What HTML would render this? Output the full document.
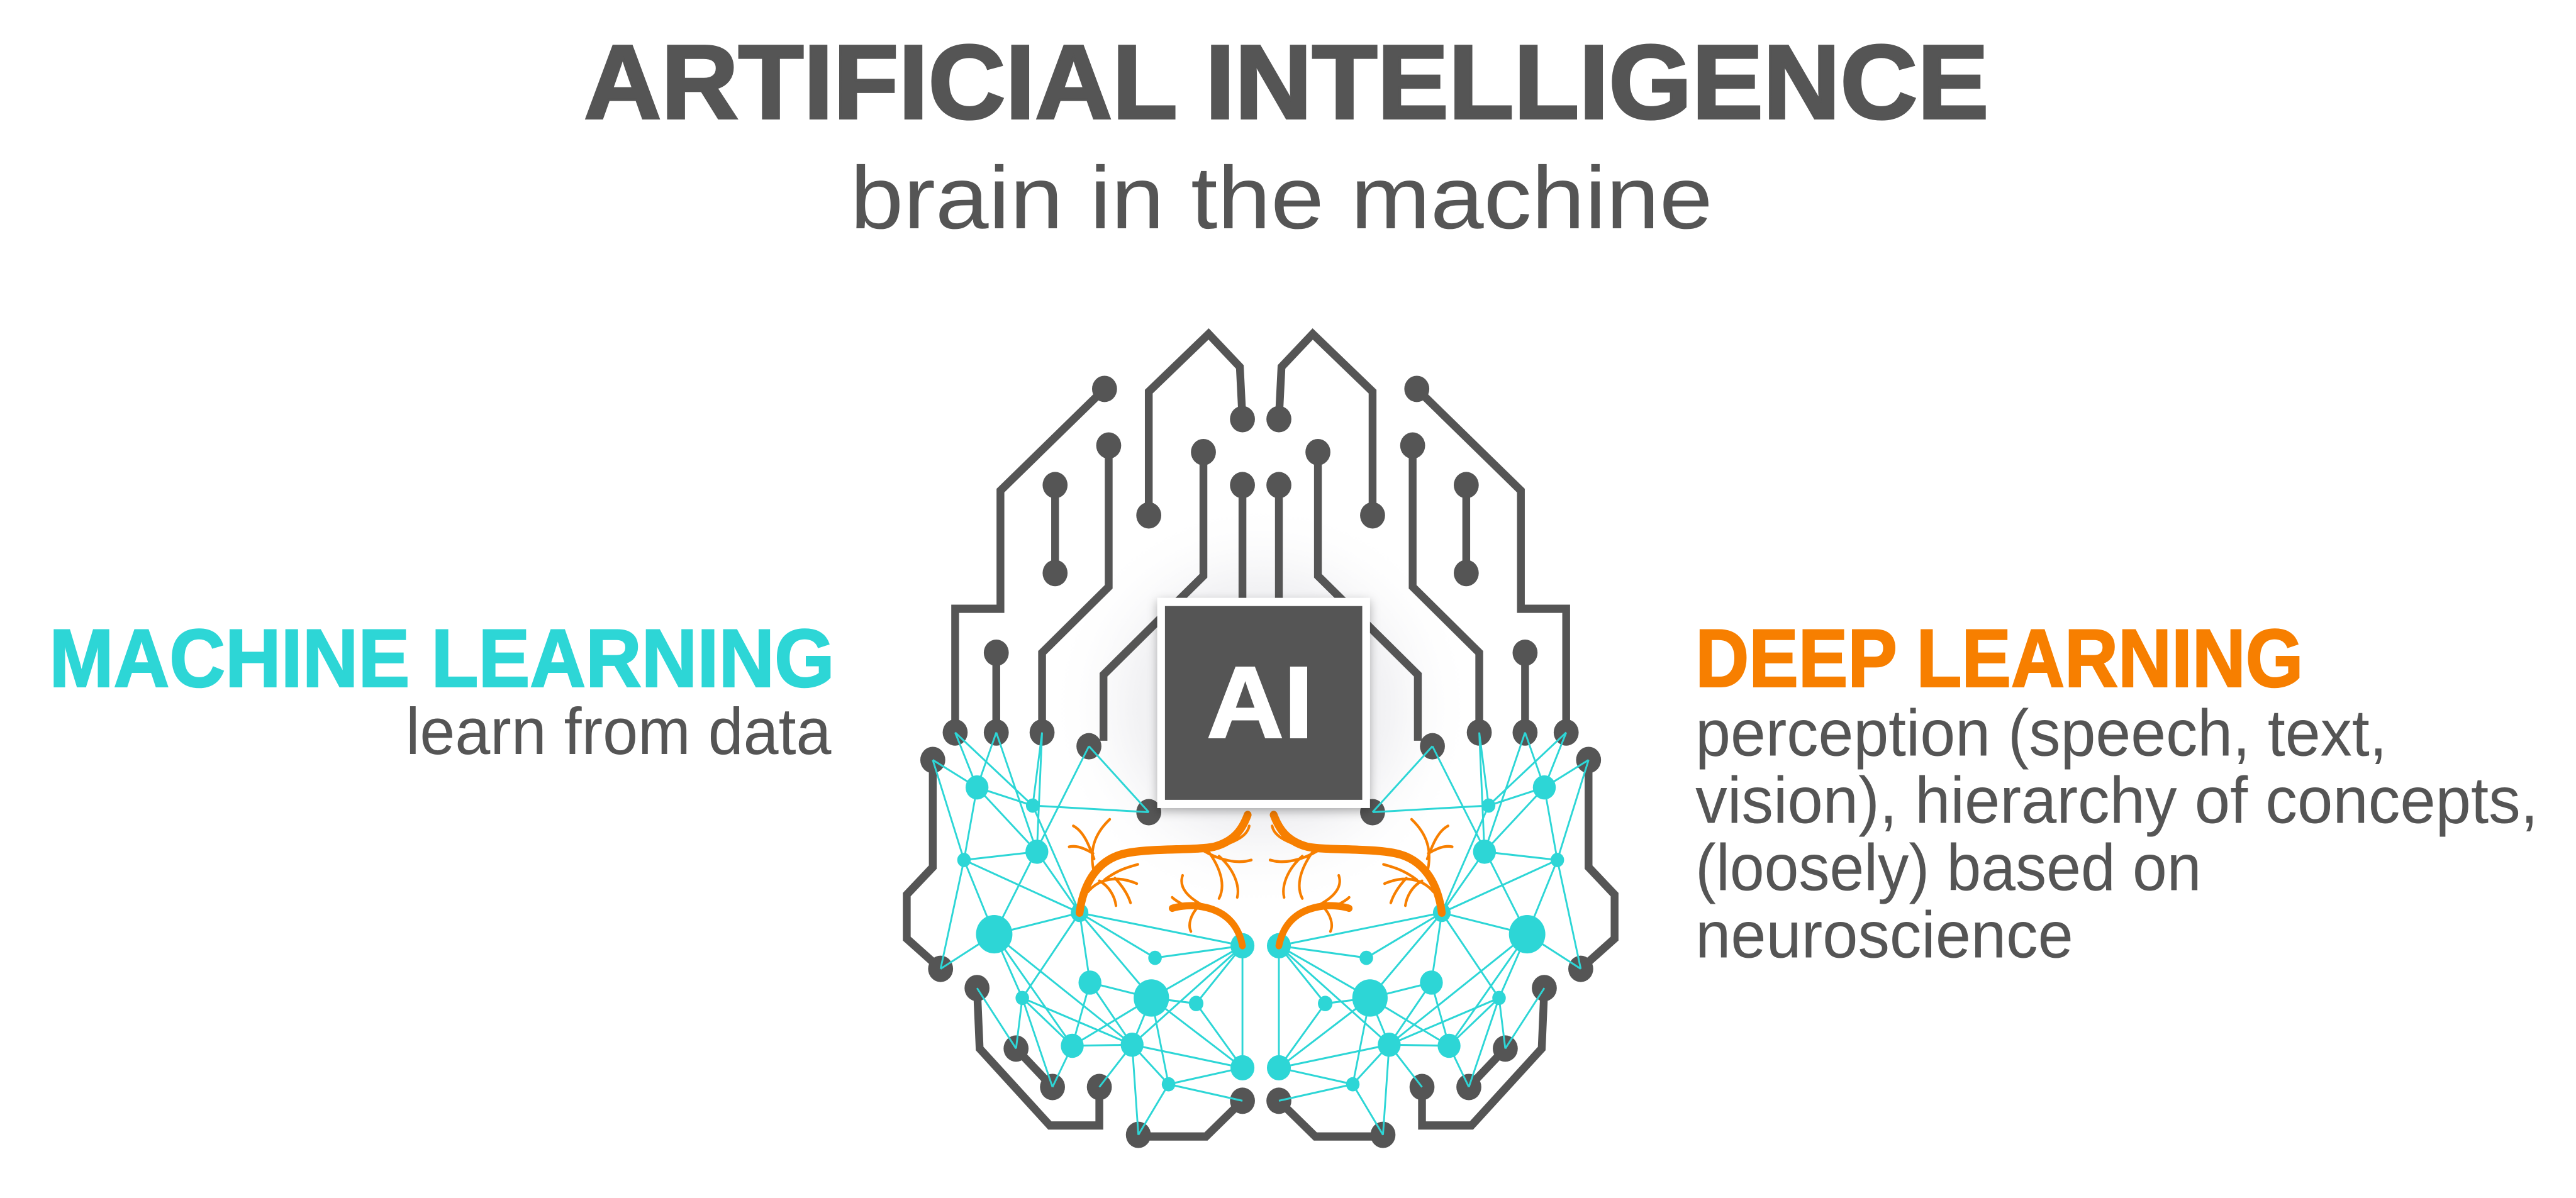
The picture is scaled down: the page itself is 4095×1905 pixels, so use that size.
<!DOCTYPE html>
<html><head><meta charset="utf-8"><style>html,body{margin:0;padding:0;background:#fff}svg{display:block}</style></head>
<body>
<svg width="4095" height="1905" viewBox="0 0 1568 729.4" xmlns="http://www.w3.org/2000/svg" font-family="Liberation Sans, sans-serif">
<defs>
<radialGradient id="glow" cx="50%" cy="50%" r="50%">
<stop offset="0" stop-color="#e4e5e8"/><stop offset="0.6" stop-color="#f3f3f5"/><stop offset="1" stop-color="#fff" stop-opacity="0"/>
</radialGradient>
<filter id="sh" x="-20%" y="-20%" width="140%" height="140%"><feDropShadow dx="0" dy="2" stdDeviation="3" flood-color="#000" flood-opacity="0.3"/></filter>
<g id="half">
 <g fill="none" stroke="#555" stroke-width="15" stroke-linejoin="miter">
  <path d="M695,210 L690,115 L630,55 L515,160 L515,385"/>
  <path d="M430,155 L230,340 L230,555 L143,555 L143,780"/>
  <path d="M335,330 L335,490"/>
  <path d="M438,258 L438,515 L310,635 L310,780"/>
  <path d="M620,270 L620,495 L428,675 L428,795"/>
  <path d="M695,330 L695,560"/>
  <path d="M222,635 L222,780"/>
  <path d="M100,830 L100,1025 L50,1075 L50,1155 L115,1210"/>
  <path d="M185,1245 L190,1355 L325,1495 L420,1495 L420,1425"/>
  <path d="M260,1355 L330,1425"/>
  <path d="M495,1515 L625,1515 L695,1450"/>
 </g>
 <g fill="#555">
  <circle cx="695" cy="210" r="24"/><circle cx="515" cy="385" r="24"/><circle cx="430" cy="155" r="24"/>
  <circle cx="143" cy="780" r="24"/><circle cx="335" cy="330" r="24"/><circle cx="335" cy="490" r="24"/>
  <circle cx="438" cy="258" r="24"/><circle cx="310" cy="780" r="24"/><circle cx="620" cy="270" r="24"/>
  <circle cx="400" cy="805" r="24"/><circle cx="695" cy="330" r="24"/><circle cx="222" cy="635" r="24"/>
  <circle cx="222" cy="780" r="24"/><circle cx="100" cy="830" r="24"/><circle cx="115" cy="1210" r="24"/>
  <circle cx="185" cy="1245" r="24"/><circle cx="420" cy="1425" r="24"/><circle cx="260" cy="1355" r="24"/>
  <circle cx="330" cy="1425" r="24"/><circle cx="495" cy="1512" r="24"/><circle cx="695" cy="1450" r="24"/>
  <circle cx="515" cy="925" r="24"/>
 </g>
 <g stroke="#2dd6d6" stroke-width="3.5" fill="none">
  <path d="M100,830L185,880 M100,830L160,1012 M143,780L185,880 M143,780L292,913 M222,780L185,880 M222,780L300,997 M310,780L292,913 M310,780L300,997 M400,805L218,1147 M400,805L515,925
  M185,880L292,913 M185,880L300,997 M185,880L160,1012 M292,913L515,925 M292,913L382,1108 M300,997L160,1012 M300,997L382,1108 M160,1012L218,1147 M160,1012L382,1108 M160,1012L115,1210
  M218,1147L115,1210 M218,1147L382,1108 M218,1147L272,1263 M218,1147L368,1350 M218,1147L483,1348 M382,1108L402,1235 M382,1108L695,1168 M382,1108L527,1190 M382,1108L272,1263 M382,1108L520,1263
  M402,1235L520,1263 M402,1235L368,1350 M402,1235L483,1348 M520,1263L695,1168 M520,1263L606,1273 M520,1263L553,1420 M520,1263L695,1390 M520,1263L368,1350 M520,1263L483,1348 M527,1190L695,1168
  M606,1273L695,1168 M606,1273L695,1390 M695,1168L695,1390 M272,1263L368,1350 M272,1263L483,1348 M272,1263L330,1425 M185,1245L260,1355 M272,1263L260,1355 M368,1350L483,1348 M368,1350L330,1425
  M483,1348L553,1420 M483,1348L420,1425 M483,1348L495,1512 M483,1348L695,1390 M553,1420L695,1390 M553,1420L695,1450 M553,1420L495,1512 M695,1168L483,1348"/>
 </g>
 <g fill="#2dd6d6">
  <circle cx="185" cy="880" r="22"/><circle cx="292" cy="913" r="13"/><circle cx="300" cy="997" r="22"/>
  <circle cx="160" cy="1012" r="13"/><circle cx="218" cy="1147" r="35"/><circle cx="382" cy="1108" r="17"/>
  <circle cx="402" cy="1235" r="22"/><circle cx="520" cy="1263" r="34"/><circle cx="527" cy="1190" r="13"/>
  <circle cx="606" cy="1273" r="14"/><circle cx="695" cy="1168" r="23"/><circle cx="272" cy="1263" r="13"/>
  <circle cx="368" cy="1350" r="22"/><circle cx="483" cy="1348" r="22"/><circle cx="553" cy="1420" r="13"/>
  <circle cx="695" cy="1390" r="23"/>
 </g>
 <g fill="none" stroke="#f77f00" stroke-linecap="round">
  <path stroke-width="15" d="M382,1108 C390,1050 420,1010 470,1000 C520,990 600,995 640,988 C680,978 695,955 705,930"/>
  <path stroke-width="13" d="M695,1168 C685,1120 650,1098 600,1095 C580,1095 565,1098 560,1100"/>
  <path stroke-width="5" d="M410,1035 C400,995 410,965 440,938 M410,1010 C400,985 390,960 370,950 M408,1000 C390,990 375,985 362,988 M398,1070 C420,1045 455,1040 492,1055 M430,1048 C455,1030 475,1025 494,1020 M450,1045 C465,1060 475,1075 480,1090 M420,1050 C440,1060 450,1080 452,1095
  M620,995 C650,1012 685,1020 712,1012 M630,997 C655,1030 662,1060 650,1082 M650,1005 C680,1030 690,1060 685,1080 M660,985 C690,975 705,965 708,950
  M620,1095 C590,1080 572,1062 580,1040 M610,1097 C595,1112 590,1130 596,1142 M590,1098 C575,1090 565,1085 560,1080"/>
 </g>
</g>
</defs>

<text x="783" y="72" text-anchor="middle" font-size="64" font-weight="bold" fill="#555" stroke="#555" stroke-width="1.5" textLength="855" lengthAdjust="spacingAndGlyphs">ARTIFICIAL INTELLIGENCE</text>
<text x="780" y="139" text-anchor="middle" font-size="54" fill="#555" textLength="525" lengthAdjust="spacingAndGlyphs">brain in the machine</text>

<text x="30" y="418" font-size="50" font-weight="bold" fill="#2dd6d6" stroke="#2dd6d6" stroke-width="1" textLength="478" lengthAdjust="spacingAndGlyphs">MACHINE LEARNING</text>
<text x="506" y="459" text-anchor="end" font-size="40" fill="#555" textLength="259" lengthAdjust="spacingAndGlyphs">learn from data</text>

<text x="1032" y="418" font-size="50" font-weight="bold" fill="#f77f00" stroke="#f77f00" stroke-width="1" textLength="370" lengthAdjust="spacingAndGlyphs">DEEP LEARNING</text>
<g font-size="40" fill="#555">
<text x="1032" y="460" textLength="421" lengthAdjust="spacingAndGlyphs">perception (speech, text,</text>
<text x="1032" y="501" textLength="513" lengthAdjust="spacingAndGlyphs">vision), hierarchy of concepts,</text>
<text x="1032" y="542" textLength="308" lengthAdjust="spacingAndGlyphs">(loosely) based on</text>
<text x="1032" y="583" textLength="230" lengthAdjust="spacingAndGlyphs">neuroscience</text>
</g>

<ellipse cx="768" cy="430" rx="130" ry="125" fill="url(#glow)"/>

<g transform="translate(536.1,184.9) scale(0.3168,0.3347)">
 <use href="#half"/>
 <g transform="translate(1460,0) scale(-1,1)"><use href="#half"/></g>
</g>

<rect x="704.4" y="364" width="129.5" height="128" fill="#fff" filter="url(#sh)"/>
<rect x="709.1" y="369" width="120.1" height="118" fill="#555"/>
<text x="767" y="449" text-anchor="middle" font-size="62" font-weight="bold" fill="#fff" stroke="#fff" stroke-width="1" textLength="65" lengthAdjust="spacingAndGlyphs">AI</text>
</svg>
</body></html>
